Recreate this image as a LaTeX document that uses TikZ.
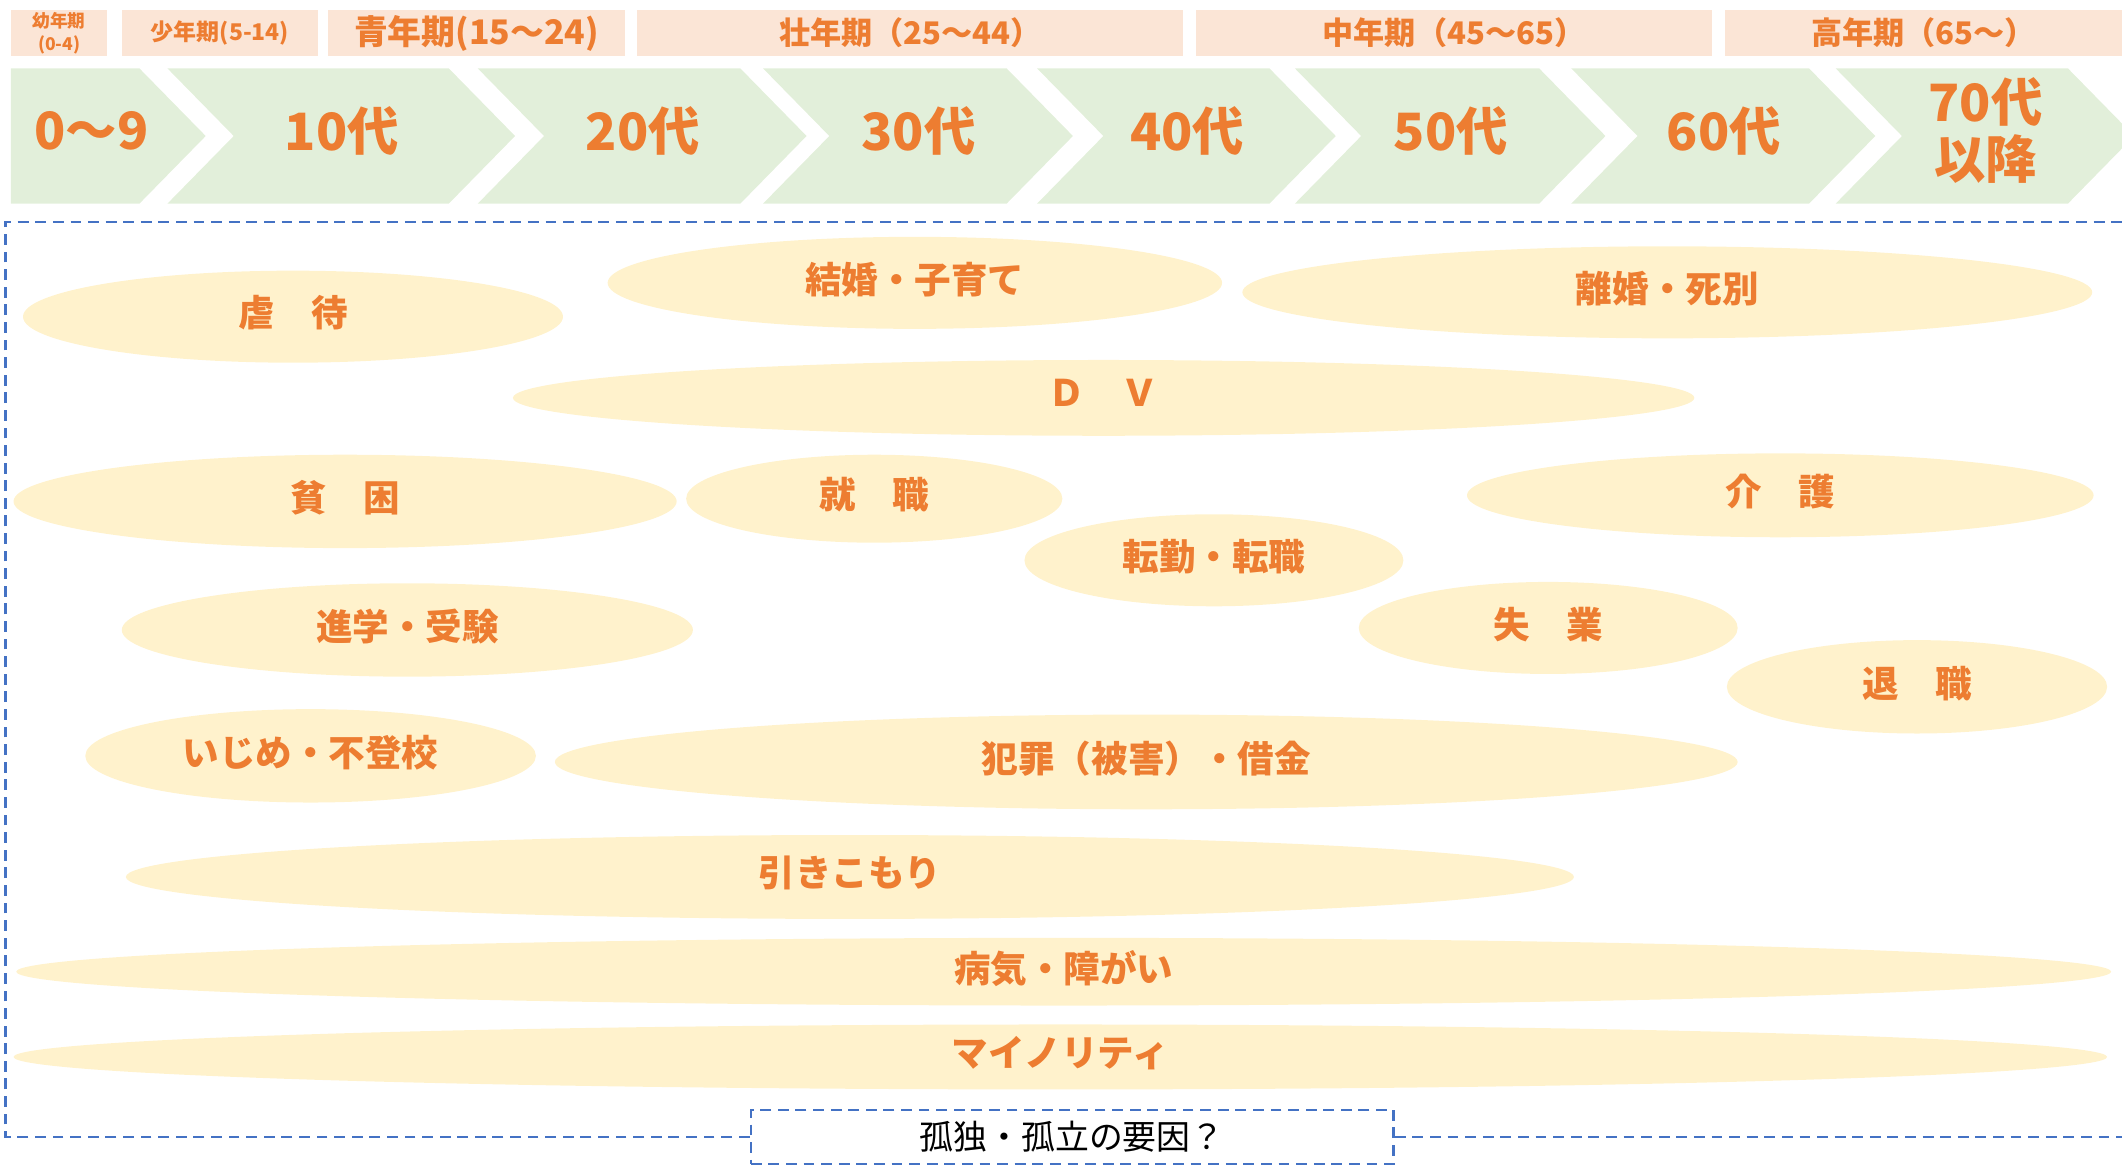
\documentclass[tikz,border=0pt]{standalone}
\usepackage{fontspec}
\newfontfamily\jpfont{Noto Sans CJK JP}
\usetikzlibrary{shapes.geometric}
\definecolor{agegreen}{HTML}{E2EFDA}
\definecolor{stagepink}{HTML}{FBE5D6}
\definecolor{causeyellow}{HTML}{FFF2CC}
\definecolor{txtorange}{HTML}{ED7D31}
\definecolor{frameblue}{HTML}{4472C4}
\newcommand\fs[1]{\fontsize{#1}{1.2\dimexpr#1pt\relax}\selectfont}
\tikzset{
  stage/.style={fill=stagepink, text=txtorange, font=\jpfont\bfseries, inner sep=0pt,
    minimum height=34pt, anchor=west, align=center},
  agetext/.style={text=txtorange, font=\jpfont\bfseries\fs{38}, align=center, inner sep=0pt},
  cause/.style={ellipse, fill=causeyellow, text=txtorange, font=\jpfont\bfseries\fs{27},
    inner sep=0pt, text depth=8pt},
  frame/.style={frameblue, line width=1.8pt, dash pattern=on 8pt off 5pt},
}
\begin{document}
\begin{tikzpicture}[x=1pt, y=-1pt]
    \useasboundingbox (0,0) rectangle (1568,862);
    \clip (0,0) rectangle (1568,862);
    % life stages
    \node[stage, minimum width=71pt, font=\jpfont\bfseries\fs{13}] (youji) at (8,24.5) {幼年期\\[1pt](0-4)};
    \node[stage, minimum width=144.6pt, font=\jpfont\bfseries\fs{17}] (shonen) at (90,24.5) {少年期(5-14)};
    \node[stage, minimum width=218.8pt, font=\jpfont\bfseries\fs{25}] (seinen) at (242.5,24.5) {青年期(15～24)};
    \node[stage, minimum width=403.5pt, font=\jpfont\bfseries\fs{23}] (sonen) at (470.8,24.5) {壮年期（25～44）};
    \node[stage, minimum width=381.7pt, font=\jpfont\bfseries\fs{23}] (chunen) at (883.3,24.5) {中年期（45～65）};
    \node[stage, minimum width=293.6pt, font=\jpfont\bfseries\fs{23}] (konen) at (1274.4,24.5) {高年期（65～）};
    % age arrows
    \fill[agegreen] (8,50.5) -- (103,50.5) -- (152,100.5) -- (103,150.5) -- (8,150.5) -- cycle;
    \node[agetext] (age0) at (67.5,96.5) {0～9};
    \foreach \a/\b/\t [count=\i] in {123.7/331.6/10代, 353/547/20代, 563.8/743.8/30代,
        766.3/938/40代, 956.8/1137.3/50代, 1161/1336.7/60代, 1356.4/1528/70代\\[-4pt]以降} {
      \fill[agegreen] (\a,50.5) -- (\b,50.5) -- (\b+49,100.5) -- (\b,150.5) -- (\a,150.5) -- (\a+49,100.5) -- cycle;
      \node[agetext] (age\i) at ({(\a+\b)/2+25},96.5) {\t};
    }
    % causes
    \node[cause, minimum width=399pt, minimum height=68pt] (gyakutai) at (216.5,234) {虐　待};
    \node[cause, minimum width=454pt, minimum height=68pt] (kekkon) at (676,209) {結婚・子育て};
    \node[cause, minimum width=628pt, minimum height=68pt] (rikon) at (1232,216) {離婚・死別};
    \node[cause, minimum width=873pt, minimum height=56pt] (dv) at (815.5,294) {Ｄ　Ｖ};
    \node[cause, minimum width=490pt, minimum height=69pt] (hinkon) at (255,370.5) {貧　困};
    \node[cause, minimum width=278pt, minimum height=65pt] (shushoku) at (646,368.5) {就　職};
    \node[cause, minimum width=463pt, minimum height=62pt] (kaigo) at (1315.5,366) {介　護};
    \node[cause, minimum width=280pt, minimum height=68pt] (tenkin) at (897,414) {転勤・転職};
    \node[cause, minimum width=422pt, minimum height=69pt] (shingaku) at (301,465.5) {進学・受験};
    \node[cause, minimum width=280pt, minimum height=68pt] (shitsugyo) at (1144,464) {失　業};
    \node[cause, minimum width=281pt, minimum height=69pt] (taishoku) at (1416.5,507.5) {退　職};
    \node[cause, minimum width=333pt, minimum height=69pt] (ijime) at (229.5,558.5) {いじめ・不登校};
    \node[cause, minimum width=874pt, minimum height=70pt] (hanzai) at (847,563) {犯罪（被害）・借金};
    \node[cause, minimum width=1070pt, minimum height=62pt] (hikikomori) at (628,648) {引きこもり};
    \node[cause, minimum width=1548pt, minimum height=50pt] (byoki) at (786,718) {病気・障がい};
    \node[cause, minimum width=1547pt, minimum height=48pt] (minority) at (783.5,781) {マイノリティ};
    % frame
    \node[draw=frameblue, line width=1.8pt, dash pattern=on 8pt off 5pt, fill=white,
      minimum width=475pt, minimum height=40pt, inner sep=0pt, font=\jpfont\fs{25}] (youin) at (792.3,840) {孤独・孤立の要因？};
    \draw[frame] (youin.west) -| (4,164) -- (1580,164);
    \draw[frame] (youin.east) -- (1580,840);
\end{tikzpicture}
\end{document}
